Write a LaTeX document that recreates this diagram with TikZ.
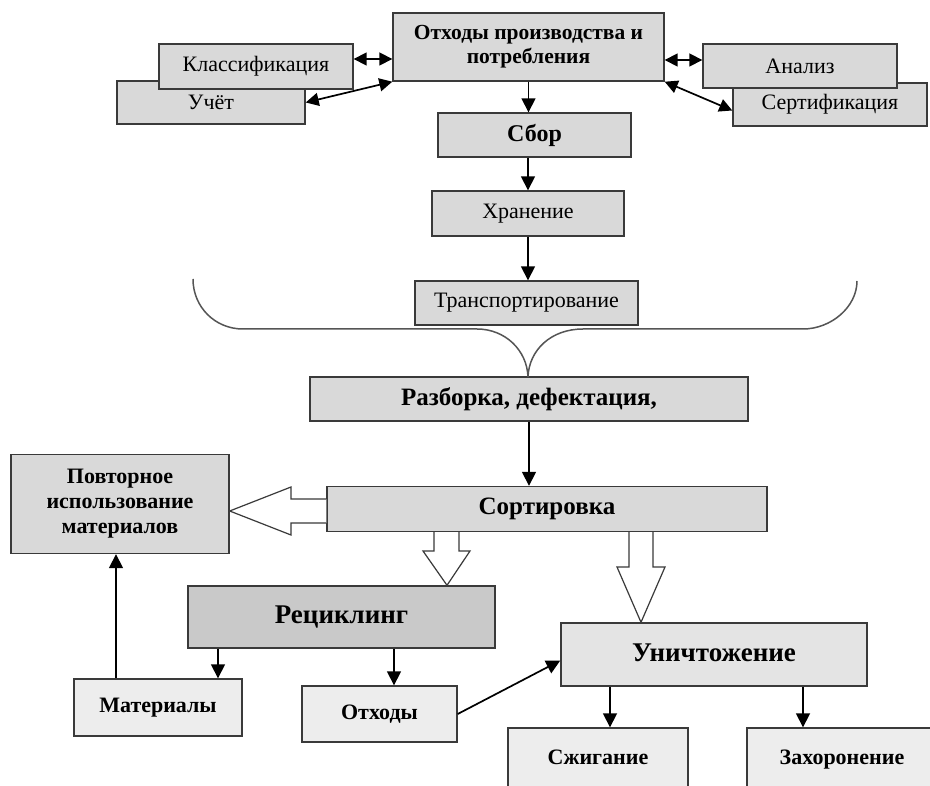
\documentclass[tikz,border=0pt]{standalone}
\usepackage{fontspec}
\setmainfont{Liberation Serif}
\usetikzlibrary{arrows.meta,calc}
\definecolor{bordc}{HTML}{3A3A3A}
\definecolor{gA}{HTML}{D9D9D9}
\definecolor{gB}{HTML}{C9C9C9}
\definecolor{gC}{HTML}{EDEDED}
\definecolor{gD}{HTML}{E4E4E4}
\definecolor{bracec}{HTML}{555555}
\tikzset{
  box/.style={draw=bordc, line width=1.4pt, fill=#1, inner sep=0pt, align=center,
    font=\fontsize{22}{26}\selectfont},
  box/.default=gA,
  bbox/.style={box=#1, font=\bfseries\fontsize{22}{25}\selectfont},
  bbox/.default=gA,
  arr/.style={-{Triangle[length=14pt,width=14pt]}, line width=1.7pt},
  dbl/.style={{Triangle[length=13pt,width=13pt]}-{Triangle[length=13pt,width=13pt]}, line width=1.7pt},
  hollow/.style={draw=bordc, line width=1.2pt, fill=white, line join=miter},
  bracestyle/.style={draw=bracec, line width=1.5pt}
}
\begin{document}
\begin{tikzpicture}[x=1pt,y=-1pt]
\clip (0,0) rectangle (930,786);
\fill[white] (0,0) rectangle (930,786);
% top row
\node[bbox, minimum width=271pt, minimum height=68pt, font=\bfseries\fontsize{21.5}{24}\selectfont] (top) at (528.5,47) {Отходы производства и\\потребления};
\node[box, minimum width=188pt, minimum height=43pt] (uchet) at (211,102.5) {Учёт};
\node[box, minimum width=194pt, minimum height=45pt] (klass) at (256,66.5) {Классификация};
\node[box, minimum width=194pt, minimum height=43pt] (sert) at (830,104.5) {Сертификация};
\node[box, minimum width=194pt, minimum height=44pt] (anal) at (800,66) {Анализ};
% chain
\node[bbox, minimum width=193pt, minimum height=44pt, font=\bfseries\fontsize{24}{27}\selectfont] (sbor) at (534.5,135) {Сбор};
\node[box, minimum width=192pt, minimum height=45pt] (khr) at (528,213.5) {Хранение};
\node[box, minimum width=223pt, minimum height=44pt] (trans) at (526.5,303) {Транспортирование};
\node[bbox, minimum width=438pt, minimum height=44pt, font=\bfseries\fontsize{25}{28}\selectfont] (razb) at (529,399) {Разборка, дефектация,};
\node[bbox, minimum width=440pt, minimum height=45pt, font=\bfseries\fontsize{25}{28}\selectfont] (sort) at (547,509) {Сортировка};
\node[bbox, minimum width=218pt, minimum height=99pt, font=\bfseries\fontsize{22}{25}\selectfont] (reuse) at (120,504) {Повторное\\использование\\материалов};
\node[bbox=gB, minimum width=307pt, minimum height=62pt, font=\bfseries\fontsize{27}{30}\selectfont] (recyc) at (341.5,617) {Рециклинг};
\node[bbox=gD, minimum width=306pt, minimum height=63pt, font=\bfseries\fontsize{27}{30}\selectfont] (unich) at (714,654.5) {\raisebox{4pt}{Уничтожение}};
\node[bbox=gC, minimum width=168pt, minimum height=57pt] (mat) at (158,707.5) {Материалы};
\node[bbox=gC, minimum width=155pt, minimum height=56pt] (otx) at (379.5,714) {Отходы};
\node[bbox=gC, minimum width=180pt, minimum height=64pt] (szh) at (598,760) {\raisebox{5pt}{Сжигание}};
\node[bbox=gC, minimum width=190pt, minimum height=64pt] (zakh) at (842,760) {\raisebox{5pt}{Захоронение}};
% top connectors
\draw[dbl] (klass.east |- 0,59) -- (top.west |- 0,59);
\draw[dbl] (uchet.east) -- (top.south west);
\draw[dbl] (top.east |- 0,60) -- (anal.west |- 0,60);
\draw[dbl] (top.south east) -- ($(sert.west)+(0,6)$);
\draw[arr] (top.south) -- (top.south |- sbor.north);
\draw[arr] (khr.north |- sbor.south) -- (khr.north);
\draw[arr] (khr.south) -- (khr.south |- trans.north);
% brace
\draw[bracestyle] (193,279) .. controls (193,307) and (215,329) .. (243,329) -- (477,329)
  .. controls (505,329) and (527,350) .. (528,377)
  .. controls (529,350) and (551,329) .. (583,329) -- (803,329)
  .. controls (831,329) and (857,307) .. (857,281);
\draw[arr] (razb.south) -- (razb.south |- sort.north);
% hollow arrows
\draw[hollow] (sort.west |- 0,499) -- (291,499) -- (291,487) -- (reuse.east |- 0,511)
  -- (291,535) -- (291,523) -- (sort.west |- 0,523);
\draw[hollow] (434,0 |- sort.south) -- (434,551) -- (423,551) -- (447,0 |- recyc.north)
  -- (470,551) -- (459,551) -- (459,0 |- sort.south);
\draw[hollow] (629,0 |- sort.south) -- (629,567) -- (617,567) -- (641,0 |- unich.north)
  -- (665,567) -- (653,567) -- (653,0 |- sort.south);
% bottom connectors
\draw[arr] (recyc.south -| 218,0) -- (mat.north -| 218,0);
\draw[arr] (recyc.south -| 394,0) -- (otx.north -| 394,0);
\draw[arr] (mat.north -| 116,0) -- (reuse.south -| 116,0);
\draw[arr] (otx.east) -- ($(unich.west)+(0,6)$);
\draw[arr] (unich.south -| 610,0) -- (szh.north -| 610,0);
\draw[arr] (unich.south -| 803,0) -- (zakh.north -| 803,0);
\end{tikzpicture}
\end{document}
